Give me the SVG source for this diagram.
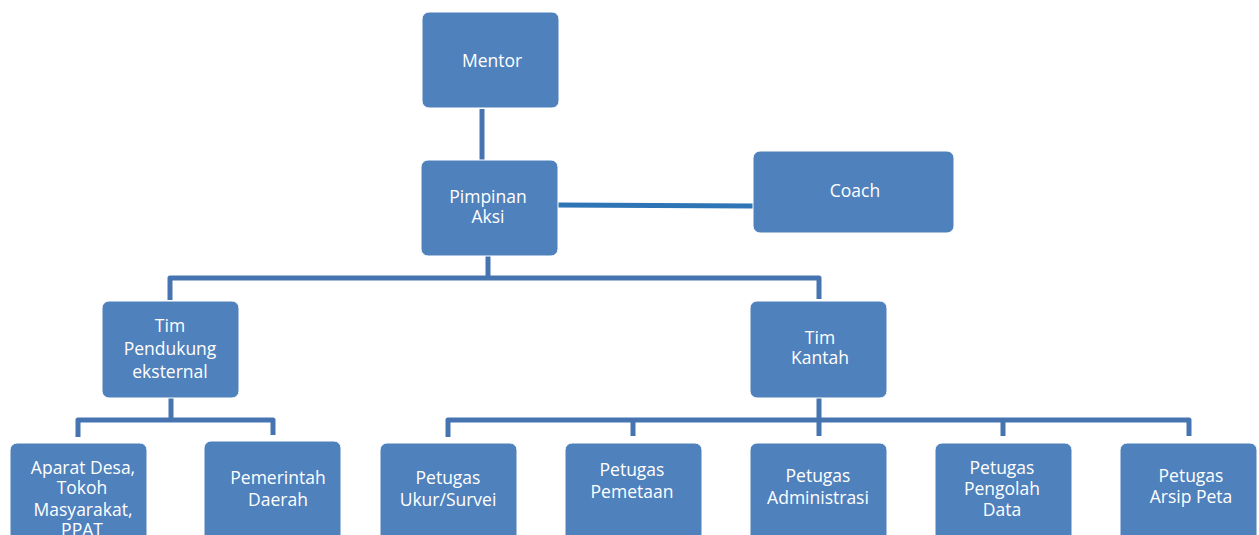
<svg xmlns="http://www.w3.org/2000/svg" width="1259" height="535" viewBox="0 0 1259 535">
<style>
.n{fill:#4F81BD;stroke:#FFFFFF;stroke-width:1}
.t{font-family:"Open Sans","Liberation Sans",sans-serif;font-size:17.5px;fill:#FFFFFF;text-anchor:middle}
.c{fill:none;stroke:#4674B0;stroke-width:5;stroke-linejoin:round}
.c2{fill:none;stroke:#2E75B6;stroke-width:5}
</style>
<rect width="1259" height="535" fill="#FFFFFF"/>
<g id="connectors">
<path class="c" d="M482,109 V160"/>
<path class="c2" d="M557,205 L753,206"/>
<path class="c" d="M488,256 V278 M170,300 V278 H819 V299"/>
<path class="c" d="M171,398 V420 M78,437 V420 H273 V435"/>
<path class="c" d="M819,398 V420 M448,437 V420 H1189 V436 M633,420 V436 M819,420 V436 M1003,420 V436"/>
</g>
<g id="mentor"><rect class="n" x="422" y="12" width="137" height="96" rx="7"/><text class="t" x="492" y="67">Mentor</text></g>
<g id="pimpinan"><rect class="n" x="421" y="160" width="137" height="96" rx="7"/><text class="t" x="488" y="203">Pimpinan</text><text class="t" x="488" y="223">Aksi</text></g>
<g id="coach"><rect class="n" x="753" y="151" width="201" height="82" rx="7"/><text class="t" x="855" y="197">Coach</text></g>
<g id="tim-pendukung"><rect class="n" x="102" y="301" width="137" height="97" rx="7"/><text class="t" x="170" y="332">Tim</text><text class="t" x="170" y="355">Pendukung</text><text class="t" x="170" y="378">eksternal</text></g>
<g id="tim-kantah"><rect class="n" x="750" y="301" width="137" height="97" rx="7"/><text class="t" x="820" y="344">Tim</text><text class="t" x="820" y="364">Kantah</text></g>
<g id="aparat"><rect class="n" x="10" y="443" width="137" height="110" rx="7"/><text class="t" x="83" y="474">Aparat Desa,</text><text class="t" x="82" y="494">Tokoh</text><text class="t" x="83" y="516">Masyarakat,</text><text class="t" x="82" y="536">PPAT</text></g>
<g id="pemerintah"><rect class="n" x="204" y="441" width="137" height="110" rx="7"/><text class="t" x="278" y="484">Pemerintah</text><text class="t" x="278" y="506">Daerah</text></g>
<g id="ukur"><rect class="n" x="380" y="443" width="137" height="110" rx="7"/><text class="t" x="448" y="484">Petugas</text><text class="t" x="448" y="506">Ukur/Survei</text></g>
<g id="pemetaan"><rect class="n" x="565" y="443" width="137" height="110" rx="7"/><text class="t" x="632" y="476">Petugas</text><text class="t" x="632" y="498">Pemetaan</text></g>
<g id="administrasi"><rect class="n" x="750" y="443" width="137" height="110" rx="7"/><text class="t" x="818" y="482">Petugas</text><text class="t" x="818" y="504">Administrasi</text></g>
<g id="pengolah"><rect class="n" x="935" y="443" width="137" height="110" rx="7"/><text class="t" x="1002" y="474">Petugas</text><text class="t" x="1002" y="495">Pengolah</text><text class="t" x="1002" y="516">Data</text></g>
<g id="arsip"><rect class="n" x="1120" y="443" width="137" height="110" rx="7"/><text class="t" x="1191" y="482">Petugas</text><text class="t" x="1191" y="503">Arsip Peta</text></g>
</svg>
